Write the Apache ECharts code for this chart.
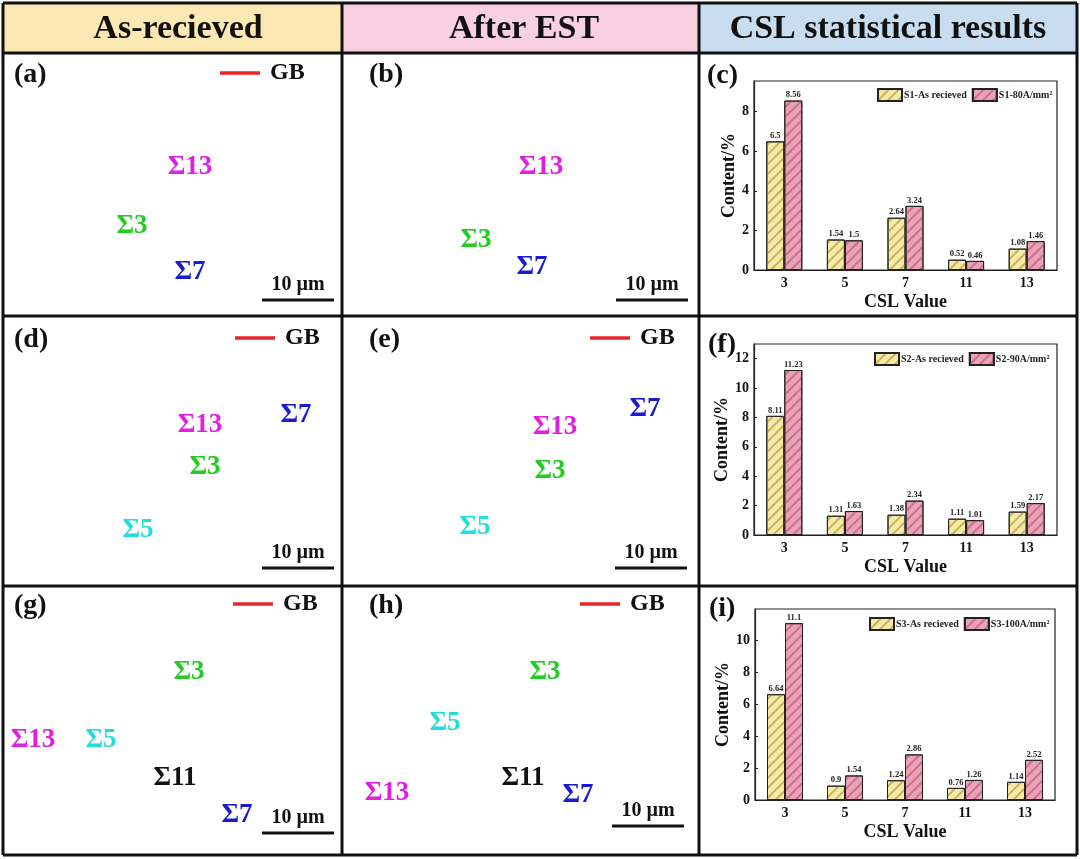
<!DOCTYPE html>
<html>
<head>
<meta charset="utf-8">
<script src="https://cdn.jsdelivr.net/npm/echarts@6/dist/echarts.min.js"></script>
<style>
html,body{margin:0;padding:0;background:#fff;}
#chart{width:1080px;height:859px;}
</style>
</head>
<body>
<div id="chart"></div>
<script>
// ---- data ----
const categories = ['3', '5', '7', '11', '13'];
const s1AsReceived = [6.5, 1.54, 2.64, 0.52, 1.08];
const s1AfterEST = [8.56, 1.5, 3.24, 0.46, 1.46];
const s2AsReceived = [8.11, 1.31, 1.38, 1.11, 1.59];
const s2AfterEST = [11.23, 1.63, 2.34, 1.01, 2.17];
const s3AsReceived = [6.64, 0.9, 1.24, 0.76, 1.14];
const s3AfterEST = [11.1, 1.54, 2.86, 1.26, 2.52];
const seriesNames = [
  ['S1-As recieved', 'S1-80A/mm\u00B2'],
  ['S2-As recieved', 'S2-90A/mm\u00B2'],
  ['S3-As recieved', 'S3-100A/mm\u00B2']
];
const yMax = [9.55, 13, 11.99];
const headers = ['As-recieved', 'After EST', 'CSL statistical results'];

const FONT = "'Liberation Serif','Times New Roman',serif";
const chart = echarts.init(document.getElementById('chart'));

const grids = [
  {left: 754, top: 81, width: 303, height: 189},
  {left: 754, top: 344, width: 303, height: 191},
  {left: 755, top: 609, width: 300, height: 191}
];
const legendPos = [
  {left: 872, top: 83},
  {left: 869, top: 347},
  {left: 864, top: 612}
];
const yNameGap = [11, 16, 16];

const yellowStyle = {
  color: '#f5eaa6', borderColor: '#222', borderWidth: 1,
  decal: {symbol: 'rect', symbolSize: 1, color: 'rgba(190,165,80,0.8)', dashArrayX: [1, 0], dashArrayY: [1.3, 4.7], rotation: -Math.PI / 4}
};
const pinkStyle = {
  color: '#e9a2b6', borderColor: '#222', borderWidth: 1,
  decal: {symbol: 'rect', symbolSize: 1, color: 'rgba(195,100,130,0.8)', dashArrayX: [1, 0], dashArrayY: [1.3, 4.7], rotation: -Math.PI / 4}
};

const dataSets = [[s1AsReceived, s1AfterEST], [s2AsReceived, s2AfterEST], [s3AsReceived, s3AfterEST]];

const xAxes = [], yAxes = [], series = [], legends = [];
grids.forEach((g, i) => {
  xAxes.push({
    type: 'category', gridIndex: i, data: categories,
    name: 'CSL Value', nameLocation: 'middle', nameGap: 23,
    nameTextStyle: {fontFamily: FONT, fontWeight: 'bold', fontSize: 18, color: '#111'},
    axisLine: {lineStyle: {color: '#222', width: 1.2}},
    axisTick: {show: false},
    axisLabel: {fontFamily: FONT, fontWeight: 'bold', fontSize: 14, color: '#111', margin: 6}
  });
  yAxes.push({
    type: 'value', gridIndex: i, min: 0, max: yMax[i], interval: 2,
    name: 'Content/%', nameLocation: 'middle', nameGap: yNameGap[i],
    nameTextStyle: {fontFamily: FONT, fontWeight: 'bold', fontSize: 18, color: '#111'},
    axisLine: {show: true, lineStyle: {color: '#222', width: 1.2}},
    axisTick: {show: true, inside: true, length: 3, lineStyle: {color: '#222'}},
    axisLabel: {fontFamily: FONT, fontWeight: 'bold', fontSize: 14, color: '#111', margin: 5, showMaxLabel: false},
    splitLine: {show: false}
  });
  const [a, b] = dataSets[i];
  const lbl = {show: true, position: 'top', distance: 1, fontFamily: FONT, fontWeight: 'bold', fontSize: 8.5, color: '#222'};
  series.push({
    type: 'bar', name: seriesNames[i][0], xAxisIndex: i, yAxisIndex: i, data: a,
    barWidth: 18, barGap: '0%', itemStyle: yellowStyle, label: lbl
  });
  series.push({
    type: 'bar', name: seriesNames[i][1], xAxisIndex: i, yAxisIndex: i, data: b,
    barWidth: 18, barGap: '0%', itemStyle: pinkStyle, label: lbl
  });
  legends.push({
    data: seriesNames[i], left: legendPos[i].left, top: legendPos[i].top,
    itemWidth: 24, itemHeight: 12, itemGap: 5, icon: 'rect',
    selectedMode: false,
    textStyle: {fontFamily: FONT, fontWeight: 'bold', fontSize: 10, color: '#222', padding: [0, 0, 0, -3]}
  });
});

// ---- frame, headers and annotation text ----
const graphics = [];
const headerFill = ['#fce8b2', '#f9d0e1', '#c8def0'];
const colX = [3, 342, 699, 1077];
const rowY = [3, 53, 316, 586, 855];
const headerX = [178, 524, 888];
for (let c = 0; c < 3; c++) {
  graphics.push({type: 'rect', shape: {x: colX[c], y: rowY[0], width: colX[c + 1] - colX[c], height: rowY[1] - rowY[0]}, style: {fill: headerFill[c]}, z: 0});
  graphics.push({type: 'text', x: headerX[c], y: 29, style: {text: headers[c], font: 'bold 34px ' + FONT, fill: '#111', textAlign: 'center', textVerticalAlign: 'middle'}, z: 5});
}
// grid frames for bar plots (top & right border)
grids.forEach(g => {
  graphics.push({type: 'rect', shape: {x: g.left, y: g.top, width: g.width, height: g.height}, style: {fill: 'none', stroke: '#222', lineWidth: 1.2}, z: 3});
});
// outer and divider lines
rowY.forEach(y => graphics.push({type: 'line', shape: {x1: 3, y1: y, x2: 1077, y2: y}, style: {stroke: '#111', lineWidth: 3}, z: 10}));
colX.forEach(x => graphics.push({type: 'line', shape: {x1: x, y1: 3, x2: x, y2: 855}, style: {stroke: '#111', lineWidth: 3}, z: 10}));

function txt(t, x, y, size, color, align) {
  graphics.push({type: 'text', x: x, y: y, style: {text: t, font: 'bold ' + size + 'px ' + FONT, fill: color, textAlign: align || 'center', textVerticalAlign: 'middle'}, z: 6});
}
// panel letters
const letters = [['(a)', 14, 75], ['(b)', 369, 75], ['(c)', 707, 76], ['(d)', 14, 340], ['(e)', 369, 340], ['(f)', 708, 345], ['(g)', 14, 606], ['(h)', 369, 606], ['(i)', 709, 609]];
letters.forEach(l => txt(l[0], l[1], l[2], 28, '#111', 'left'));

// GB legends
const gbLeg = [[220, 73], [235, 338], [590, 338], [233, 604], [580, 604]];
gbLeg.forEach(p => {
  graphics.push({type: 'line', shape: {x1: p[0], y1: p[1], x2: p[0] + 40, y2: p[1]}, style: {stroke: '#e8262a', lineWidth: 3.5}, z: 6});
  txt('GB', p[0] + 50, p[1], 24, '#111', 'left');
});
// scale bars
const scaleBars = [[262, 300], [616, 300], [262, 568], [615, 568], [262, 833], [612, 826]];
scaleBars.forEach(p => {
  graphics.push({type: 'line', shape: {x1: p[0], y1: p[1], x2: p[0] + 72, y2: p[1]}, style: {stroke: '#111', lineWidth: 3}, z: 6});
  txt('10 \u00B5m', p[0] + 36, p[1] - 15, 20, '#111');
});
// sigma labels
const MAG = '#e020e0', GRN = '#22cc22', BLU = '#1a1ad0', CYA = '#22dddd', BLK = '#111';
const sigmas = [
  ['\u03A313', 190, 167, MAG], ['\u03A33', 132, 226, GRN], ['\u03A37', 190, 272, BLU],
  ['\u03A313', 541, 167, MAG], ['\u03A33', 476, 240, GRN], ['\u03A37', 532, 267, BLU],
  ['\u03A313', 200, 425, MAG], ['\u03A37', 296, 415, BLU], ['\u03A33', 205, 467, GRN], ['\u03A35', 138, 530, CYA],
  ['\u03A313', 555, 427, MAG], ['\u03A37', 645, 409, BLU], ['\u03A33', 550, 471, GRN], ['\u03A35', 475, 527, CYA],
  ['\u03A33', 189, 672, GRN], ['\u03A313', 33, 740, MAG], ['\u03A35', 101, 740, CYA], ['\u03A311', 175, 778, BLK], ['\u03A37', 237, 815, BLU],
  ['\u03A33', 545, 672, GRN], ['\u03A35', 445, 723, CYA], ['\u03A313', 387, 793, MAG], ['\u03A311', 523, 778, BLK], ['\u03A37', 578, 795, BLU]
];
sigmas.forEach(s => txt(s[0], s[1], s[2], 27, s[3]));

chart.setOption({
  backgroundColor: '#fff',
  animation: false,
  aria: {enabled: true, decal: {show: true}},
  grid: grids.map(g => Object.assign({containLabel: false}, g)),
  xAxis: xAxes,
  yAxis: yAxes,
  legend: legends,
  series: series,
  graphic: graphics
});
</script>
</body>
</html>
